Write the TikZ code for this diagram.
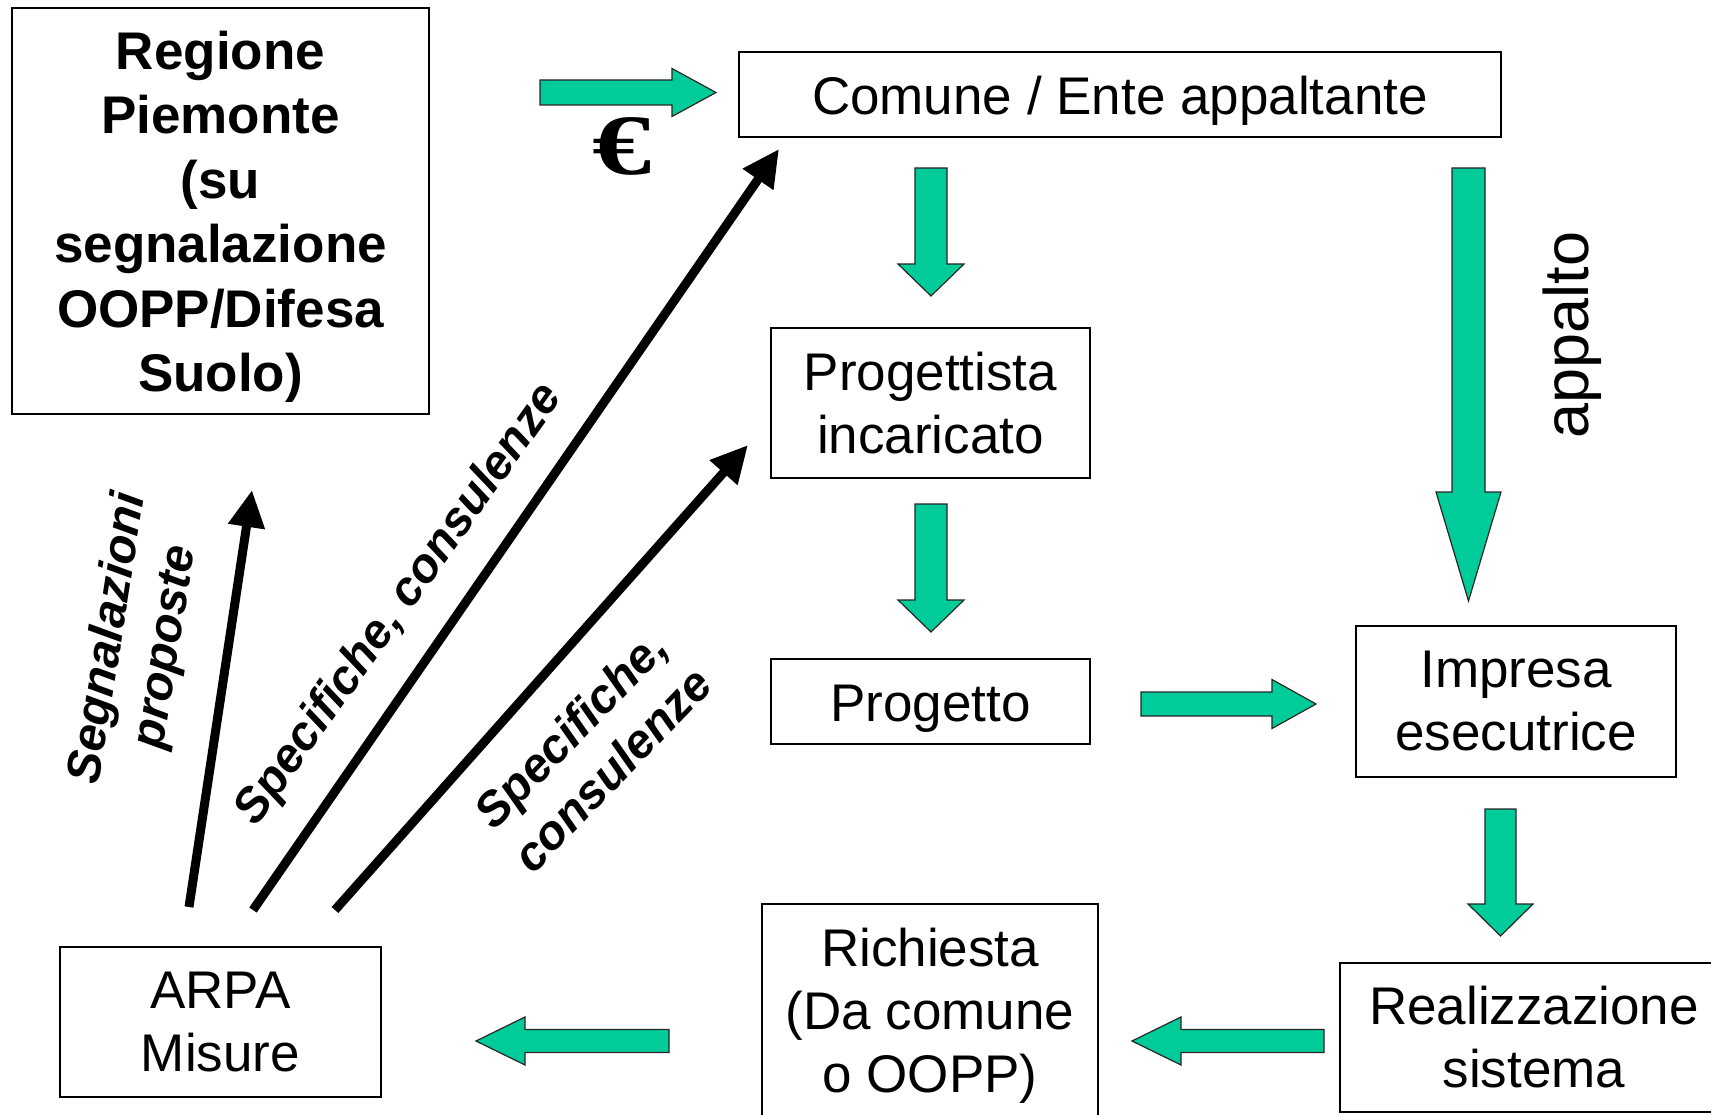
\documentclass[tikz,border=0pt]{standalone}
\usepackage{fontspec}
\setmainfont{Liberation Sans}
\newfontfamily\eurofont{Liberation Serif}
\usetikzlibrary{arrows.meta}
\definecolor{arrowgreen}{RGB}{0,204,153}

\begin{document}
\begin{tikzpicture}[x=1pt,y=-1pt,
    box/.style={draw,line width=1.5pt,align=center,inner sep=0pt,
      font=\fontsize{53}{63}\selectfont,execute at begin node={\rule{0pt}{0.97em}}},
    greenarrow/.style={fill=arrowgreen,draw=black!85,line width=1.2pt},
    blackarrow/.style={line width=9pt,-{Triangle[length=37pt,width=35pt]}},
    tag/.style={font=\bfseries\itshape\fontsize{48}{58}\selectfont,align=center,inner sep=0pt}]
    \useasboundingbox (0,0) rectangle (1711,1115);
    \node[box,minimum width=417,minimum height=406,
      font=\bfseries\fontsize{53}{64.4}\selectfont] (regione) at (220.5,211)
      {\rule{0pt}{50pt}Regione\\Piemonte\\(su\\segnalazione\\OOPP/Difesa\\Suolo)};
    \node[box,minimum width=762,minimum height=85] (comune) at (1120,94.5) {Comune / Ente appaltante};
    \node[box,minimum width=319,minimum height=150] (progettista) at (930.5,403) {Progettista\\incaricato};
    \node[box,minimum width=319,minimum height=85] (progetto) at (930.5,701.5) {Progetto};
    \node[box,minimum width=320,minimum height=151] (impresa) at (1516,701.5) {Impresa\\esecutrice};
    \node[box,minimum width=388,minimum height=149] (realizzazione) at (1534,1037.5) {Realizzazione\\sistema};
    \node[box,minimum width=336,minimum height=218] (richiesta) at (930,1013)
      {\rule{0pt}{44pt}Richiesta\\(Da comune\\o OOPP)};
    \node[box,minimum width=321,minimum height=150] (arpa) at (220.5,1022) {ARPA\\Misure};

    \foreach \ax/\ay/\rot/\alen/\swid/\hwid/\hlen in {
     540/92.5/0/176/25/48/44, 931/168/-90/128/32/66/32, 931/504/-90/128/32/66/32,
     1468.5/168/-90/433/33/65/109, 1141/704/0/175/24/49/44, 1500.5/809/-90/127/31/65/32,
     1324/1041/180/192/23/48/49, 669/1041/180/193/23/48/49
     } {
      \filldraw[greenarrow,shift={(\ax,\ay)},rotate=\rot]
        (0,-\swid/2) -- (\alen-\hlen,-\swid/2) -- (\alen-\hlen,-\hwid/2) -- (\alen,0)
        -- (\alen-\hlen,\hwid/2) -- (\alen-\hlen,\swid/2) -- (0,\swid/2) -- cycle;
     }

    \coordinate (segnFrom) at (189,907);
    \coordinate (segnTo) at (252,490);
    \coordinate (specFrom) at (253,910);
    \coordinate (specTo) at (779,149);
    \coordinate (consFrom) at (335,910);
    \coordinate (consTo) at (748,445);
    \draw[blackarrow] (segnFrom) -- (segnTo);
    \draw[blackarrow] (specFrom) -- (specTo);
    \draw[blackarrow] (consFrom) -- (consTo);

    \node[tag,rotate=81] (segnalazioni) at (138,643) {Segnalazioni\\proposte};
    \node[tag,rotate=54.5] (specifiche) at (400,605) {Specifiche, consulenze};
    \node[tag,rotate=46] (consulenze) at (591,749) {Specifiche,\\consulenze};
    \node[font=\fontsize{63}{70}\selectfont,rotate=90,inner sep=0pt] (appalto) at (1572,335) {appalto};
    \node[font=\eurofont\bfseries\fontsize{86}{90}\selectfont,xscale=1.38,inner sep=0pt] (euro) at (622,146) {€};
   \end{tikzpicture}
\end{document}
